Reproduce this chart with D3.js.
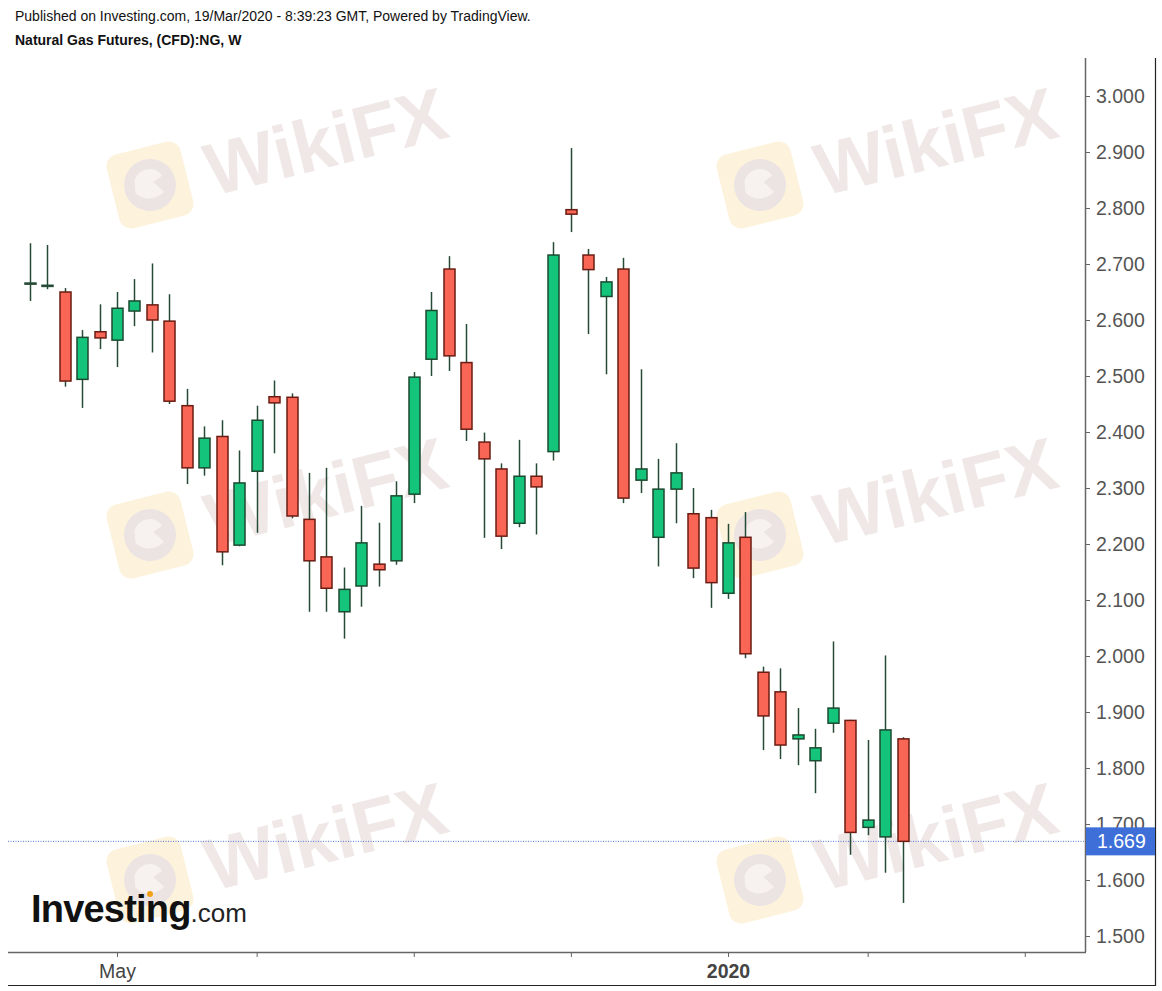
<!DOCTYPE html>
<html>
<head>
<meta charset="utf-8">
<script src="https://cdn.jsdelivr.net/npm/d3@7"></script>
<style>
  body { margin: 0; background: #fff; }
  svg { display: block; font-family: Arial, "Liberation Sans", sans-serif; }
</style>
</head>
<body>
<div id="chart"></div>
<script>
// Weekly candles, Natural Gas Futures (CFD):NG
const weekStart = new Date(2019, 3, 1); // first bar, Monday 1 Apr 2019
const opens  = [2.666, 2.660, 2.650, 2.494, 2.579, 2.564, 2.616, 2.627, 2.598, 2.447, 2.336, 2.392, 2.198, 2.330, 2.463, 2.462, 2.244, 2.177, 2.079, 2.125, 2.164, 2.170, 2.289, 2.530, 2.691, 2.524, 2.382, 2.334, 2.237, 2.321, 2.365, 2.797, 2.716, 2.642, 2.691, 2.314, 2.212, 2.298, 2.254, 2.247, 2.112, 2.212, 1.971, 1.936, 1.852, 1.813, 1.880, 1.885, 1.694, 1.677, 1.852];
const highs  = [2.737, 2.734, 2.657, 2.582, 2.628, 2.650, 2.673, 2.701, 2.646, 2.477, 2.410, 2.421, 2.367, 2.447, 2.492, 2.469, 2.327, 2.336, 2.158, 2.268, 2.238, 2.312, 2.507, 2.650, 2.714, 2.593, 2.399, 2.344, 2.386, 2.344, 2.739, 2.907, 2.727, 2.677, 2.711, 2.512, 2.352, 2.380, 2.300, 2.261, 2.236, 2.257, 1.981, 1.978, 1.907, 1.870, 2.026, 1.886, 1.850, 2.001, 1.855];
const lows   = [2.634, 2.655, 2.481, 2.443, 2.548, 2.516, 2.589, 2.542, 2.450, 2.307, 2.322, 2.162, 2.196, 2.220, 2.362, 2.246, 2.079, 2.079, 2.031, 2.088, 2.124, 2.163, 2.273, 2.500, 2.509, 2.384, 2.211, 2.191, 2.230, 2.217, 2.349, 2.757, 2.575, 2.503, 2.273, 2.291, 2.160, 2.237, 2.139, 2.086, 2.102, 1.996, 1.832, 1.816, 1.805, 1.755, 1.863, 1.645, 1.680, 1.613, 1.559];
const closes = [2.664, 2.662, 2.491, 2.569, 2.568, 2.621, 2.634, 2.600, 2.455, 2.336, 2.389, 2.186, 2.309, 2.421, 2.452, 2.250, 2.170, 2.121, 2.119, 2.202, 2.154, 2.286, 2.498, 2.617, 2.536, 2.405, 2.352, 2.214, 2.321, 2.302, 2.716, 2.789, 2.690, 2.668, 2.282, 2.334, 2.298, 2.327, 2.157, 2.131, 2.202, 2.004, 1.893, 1.841, 1.859, 1.836, 1.907, 1.685, 1.707, 1.868, 1.669];
const lastPrice = 1.669;
const priceTicks = [1.5, 1.6, 1.7, 1.8, 1.9, 2.0, 2.1, 2.2, 2.3, 2.4, 2.5, 2.6, 2.7, 2.8, 2.9, 3.0];
const monthTicks = [
  { date: new Date(2019, 4, 6), label: "May", bold: false },
  { date: new Date(2019, 6, 1), label: "", bold: false },
  { date: new Date(2019, 8, 2), label: "", bold: false },
  { date: new Date(2019, 10, 4), label: "", bold: false },
  { date: new Date(2020, 0, 6), label: "2020", bold: true },
  { date: new Date(2020, 2, 2), label: "", bold: false },
  { date: new Date(2020, 4, 4), label: "", bold: false }
];

const width = 1162, height = 991;
const plot = { left: 8, right: 1085, top: 58, bottom: 952 };

const weeks = d3.timeMonday.range(weekStart, d3.timeMonday.offset(weekStart, opens.length));
const bars = weeks.map((d, i) => ({ date: d, i, o: opens[i], h: highs[i], l: lows[i], c: closes[i] }));
const weekIndex = d => Math.round((d - weekStart) / (7 * 864e5));

const svg = d3.select("#chart").append("svg")
    .attr("width", width)
    .attr("height", height);

const x = d3.scaleLinear().domain([-1.243, 60.45]).range([plot.left, plot.right]);
const y = d3.scaleLinear().domain([1.5, 3.0]).range([936, 96]);
const bodyW = 11;

// Watermarks
const marks = [[150, 185], [760, 185], [150, 535], [760, 535], [150, 880], [760, 880]];
const wm = svg.append("g").attr("class", "watermark");
marks.forEach(([mx, my]) => {
    const g = wm.append("g").attr("transform", `translate(${mx},${my}) rotate(-14)`);
    g.append("rect")
        .attr("x", -38).attr("y", -38).attr("width", 76).attr("height", 76)
        .attr("rx", 12)
        .attr("fill", "#fdf3dc");
    g.append("circle").attr("r", 26).attr("fill", "#ece4e2");
    g.append("path")
        .attr("d", "M-14,-8 C-6,-20 10,-18 14,-6 L4,-2 L12,10 C2,16 -10,14 -16,4 Z")
        .attr("fill", "#f7f2ef");
    g.append("text")
        .attr("x", 58).attr("y", 26)
        .attr("font-size", 74).attr("font-weight", "bold")
        .attr("fill", "#f0e8e7")
        .text("WikiFX");
});

// Last price dotted line
svg.append("line")
    .attr("x1", plot.left).attr("x2", plot.right)
    .attr("y1", y(lastPrice)).attr("y2", y(lastPrice))
    .attr("stroke", "#4f74d4").attr("stroke-width", 1)
    .attr("stroke-dasharray", "1,1.5");

// Candles
const candle = svg.append("g").selectAll("g")
    .data(bars)
    .join("g")
    .attr("transform", d => `translate(${Math.round(x(d.i)) + 0.5},0)`);

candle.append("line")
    .attr("y1", d => y(d.h)).attr("y2", d => y(d.l))
    .attr("stroke", "#254b36").attr("stroke-width", 1.5);

candle.append("rect")
    .attr("x", -bodyW / 2)
    .attr("y", d => y(Math.max(d.o, d.c)))
    .attr("width", bodyW)
    .attr("height", d => Math.max(1, Math.abs(y(d.o) - y(d.c))))
    .attr("fill", d => d.c >= d.o ? "#14c47a" : "#fa6656")
    .attr("stroke", d => Math.abs(y(d.o) - y(d.c)) < 2 ? "#254b36" : (d.c >= d.o ? "#1b4a30" : "#6a1c12"))
    .attr("stroke-width", 1.5);

// Axes
const yAxis = d3.axisRight(y)
    .tickValues(priceTicks)
    .tickSize(5)
    .tickPadding(6)
    .tickFormat(d3.format(".3f"));

const gy = svg.append("g")
    .attr("transform", `translate(${plot.right},0)`)
    .call(yAxis);
gy.select(".domain").remove();
gy.selectAll("line").attr("stroke", "#666");
gy.selectAll("text")
    .attr("font-size", 19.5)
    .attr("fill", "#555")
    .attr("font-family", "Arial, 'Liberation Sans', sans-serif");

svg.append("line")
    .attr("x1", plot.right + 0.5).attr("x2", plot.right + 0.5)
    .attr("y1", plot.top).attr("y2", plot.bottom)
    .attr("stroke", "#666").attr("stroke-width", 1.5);

const xAxis = d3.axisBottom(x)
    .tickValues(monthTicks.map(t => weekIndex(t.date)))
    .tickSize(5)
    .tickPadding(7)
    .tickFormat((d, i) => monthTicks[i].label);

const gx = svg.append("g")
    .attr("transform", `translate(0,${plot.bottom})`)
    .call(xAxis);
gx.select(".domain").remove();
gx.selectAll("line").attr("stroke", "#666");
gx.selectAll("text")
    .attr("font-size", 19.5)
    .attr("fill", "#444")
    .attr("font-weight", (d, i) => monthTicks[i].bold ? "bold" : "normal")
    .attr("font-family", "Arial, 'Liberation Sans', sans-serif");

svg.append("line")
    .attr("x1", plot.left).attr("x2", plot.right + 1)
    .attr("y1", plot.bottom + 0.5).attr("y2", plot.bottom + 0.5)
    .attr("stroke", "#666").attr("stroke-width", 1.5);

// Outer frame (right and bottom)
svg.append("path")
    .attr("d", `M1155.5,${plot.top} V985.5 H${plot.left}`)
    .attr("fill", "none")
    .attr("stroke", "#222").attr("stroke-width", 1.2);

// Last price label
const tag = svg.append("g").attr("transform", `translate(${plot.right + 1},${y(lastPrice)})`);
tag.append("rect")
    .attr("x", 0).attr("y", -14).attr("width", 69).attr("height", 28)
    .attr("fill", "#3e6fd9");
tag.append("text")
    .attr("x", 11).attr("y", 7)
    .attr("font-size", 19.5)
    .attr("fill", "#fff")
    .text(d3.format(".3f")(lastPrice));

// Header
svg.append("text")
    .attr("x", 15).attr("y", 21)
    .attr("font-size", 14).attr("fill", "#111")
    .text("Published on Investing.com, 19/Mar/2020 - 8:39:23 GMT, Powered by TradingView.");
svg.append("text")
    .attr("x", 15).attr("y", 45)
    .attr("font-size", 14).attr("font-weight", "bold").attr("fill", "#111")
    .text("Natural Gas Futures, (CFD):NG, W");

// Investing.com logo
const logo = svg.append("text")
    .attr("x", 31).attr("y", 922)
    .attr("fill", "#111");
logo.append("tspan")
    .attr("font-size", 38).attr("font-weight", "bold")
    .attr("letter-spacing", -0.8)
    .text("Investing");
logo.append("tspan")
    .attr("font-size", 26)
    .attr("fill", "#222")
    .text(".com");
svg.append("circle")
    .attr("cx", 150).attr("cy", 894).attr("r", 3)
    .attr("fill", "#f3a11b");
</script>
</body>
</html>
